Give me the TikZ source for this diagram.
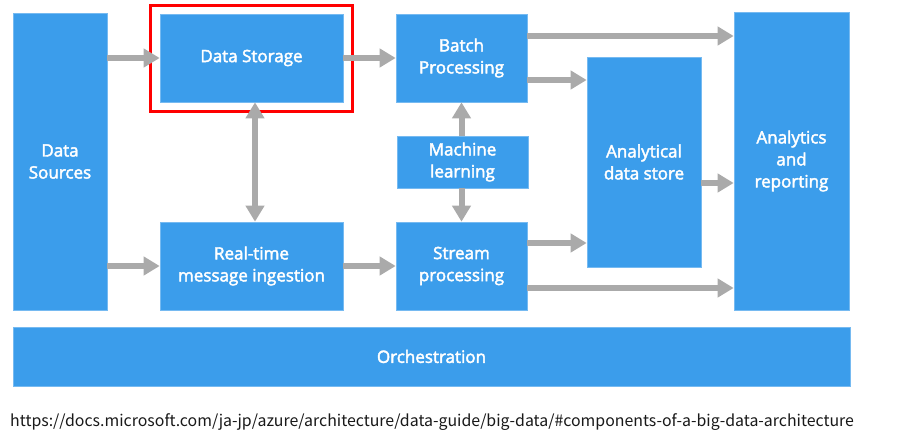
\documentclass[tikz,border=0pt]{standalone}
\usepackage{fontspec}
\setmainfont{Open Sans}
\newfontfamily\boxfont[FakeBold=2.5]{Open Sans}
\newfontfamily\urlfont{Noto Sans CJK JP}
\usetikzlibrary{arrows.meta}
\definecolor{boxblue}{RGB}{59,157,235}
\definecolor{arrgray}{RGB}{170,170,170}
\definecolor{redframe}{RGB}{255,0,0}
\tikzset{
  blk/.style={fill=boxblue, draw=boxblue!70!white, line width=0.6pt, text=white, align=center,
    font=\boxfont\fontsize{17}{22}\selectfont, inner sep=0pt},
  flow/.style={draw=arrgray, line width=6pt, -{Triangle[width=18pt,length=16pt]}},
  flow2/.style={draw=arrgray, line width=6pt, {Triangle[width=18pt,length=16pt]}-{Triangle[width=18pt,length=16pt]}},
}
\begin{document}
\begin{tikzpicture}[x=1pt,y=-1pt]
\useasboundingbox (0,0) rectangle (900,439);
\node[blk, minimum width=94pt, minimum height=297pt] (ds) at (60,161.5) {Data\\Sources};
\node[blk, minimum width=183pt, minimum height=88pt] (stor) at (251.5,58) {Data Storage};
\node[blk, minimum width=131pt, minimum height=88pt] (batch) at (461.5,58) {Batch\\Processing};
\node[blk, minimum width=131pt, minimum height=52pt] (ml) at (462.5,162) {Machine\\learning};
\node[blk, minimum width=131pt, minimum height=88pt] (stream) at (461.5,266) {Stream\\processing};
\node[blk, minimum width=183pt, minimum height=88pt] (rt) at (251.5,266) {Real-time\\message ingestion};
\node[blk, minimum width=114pt, minimum height=210pt] (ads) at (644,162) {Analytical\\data store};
\node[blk, minimum width=115pt, minimum height=298pt] (ar) at (791.5,161) {Analytics\\and\\reporting};
\node[blk, minimum width=837pt, minimum height=59pt] (orch) at (431.5,356.5) {Orchestration};
\node[draw=redframe, line width=3pt, minimum width=202pt, minimum height=106pt, inner sep=0pt] (frame) at (251,58) {};
\node[anchor=base west, inner sep=0pt, text=black!90, font=\urlfont\fontsize{15.9}{18}\selectfont] (url) at (10,426)
  {https://docs.microsoft.com/ja-jp/azure/architecture/data-guide/big-data/\#components-of-a-big-data-architecture};
% arrows
\draw[flow] (ds.east |- stor.west) -- (stor.west);
\draw[flow] (ds.east |- rt.west) -- (rt.west);
\draw[flow] (stor.east) -- (batch.west);
\draw[flow] (rt.east) -- (stream.west);
\draw[flow2] ([xshift=3.5pt]stor.south) -- ([xshift=3.5pt]rt.north);
\draw[flow] (ml.north -| batch.south) -- (batch.south);
\draw[flow] (ml.south -| stream.north) -- (stream.north);
\draw[flow] ([yshift=22pt]batch.east) -- ([yshift=22pt]batch.east -| ar.west);
\draw[flow] ([yshift=-22pt]batch.east) -- ([yshift=-22pt]batch.east -| ads.west);
\draw[flow] ([yshift=23pt]stream.east) -- ([yshift=23pt]stream.east -| ads.west);
\draw[flow] ([yshift=-22pt]stream.east) -- ([yshift=-22pt]stream.east -| ar.west);
\draw[flow] ([yshift=-21pt]ads.east) -- ([yshift=-21pt]ads.east -| ar.west);
\end{tikzpicture}
\end{document}
